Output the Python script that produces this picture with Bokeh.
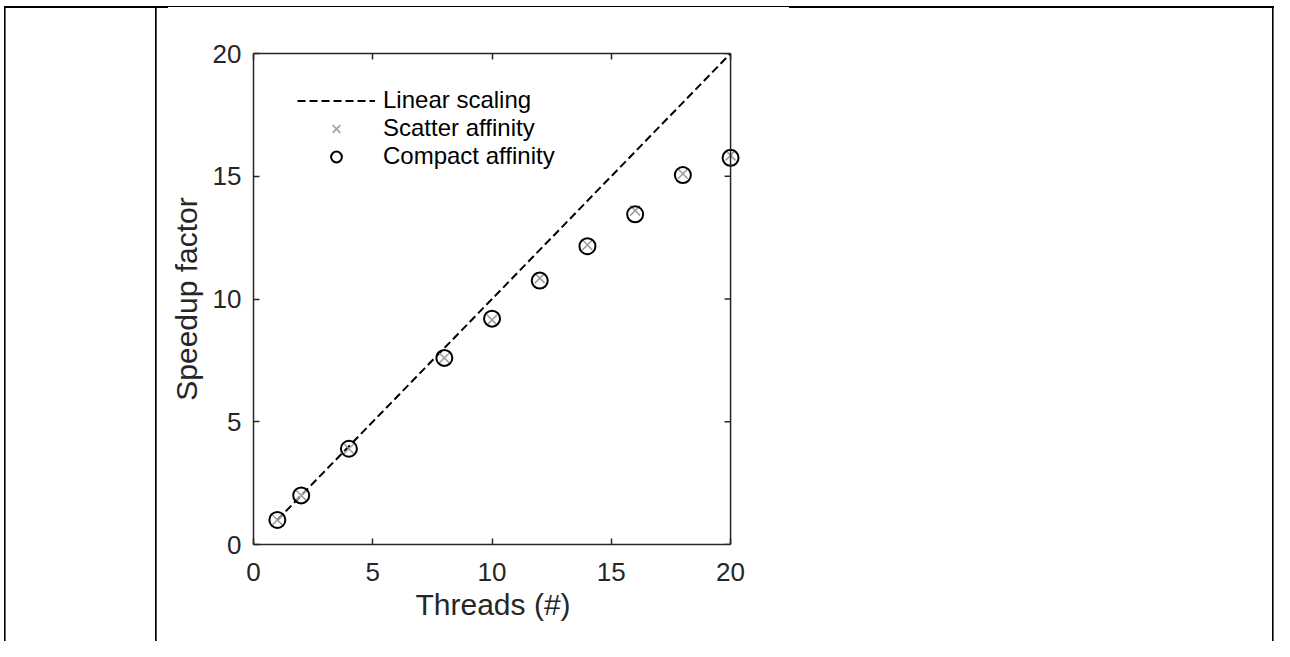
from bokeh.plotting import figure
from bokeh.models import LinearAxis, Range1d, FixedTicker, Legend, LegendItem, Span, Title
from bokeh.embed import file_html
from bokeh.resources import INLINE

# ---- data ----
threads = [1, 2, 4, 8, 10, 12, 14, 16, 18, 20]
linear_speedup = [1, 2, 4, 8, 10, 12, 14, 16, 18, 20]
scatter_speedup = [1.0, 2.0, 3.9, 7.6, 9.15, 10.85, 12.2, 13.6, 15.1, 15.85]
compact_speedup = [1.0, 2.0, 3.9, 7.6, 9.2, 10.75, 12.15, 13.45, 15.05, 15.75]
x_ticks = [0, 5, 10, 15, 20]
y_ticks = [0, 5, 10, 15, 20]
legend_labels = ["Linear scaling", "Scatter affinity", "Compact affinity"]
x_label = "Threads (#)"
y_label = "Speedup factor"

FONT = "Liberation Sans"
AX = "#262626"

W, H = 1274, 641
X_MAX = x_ticks[-1]
X_PAD = 0.5                       # room so the last markers are not clipped
PX_PER_X = 477 / X_MAX
FL, FT, FB = 253, 53, 544
FR = FL + round(PX_PER_X * (X_MAX + X_PAD))
TICK_PX = 6

# page-table border lines painted as CSS background behind a transparent canvas
bg_layers = [
    # (left, top, width, height)
    (4, 6, 1.6, H),
    (155, 6, 1.7, H),
    (4, 6, 164, 2.0),
    (168, 6, 621, 1.0),
    (789, 6, W - 789, 2.0),
    (W - 1.6, 6, 1.6, H),
]
styles = {
    "background-color": "white",
    "background-image": ", ".join(["linear-gradient(#000, #000)"] * len(bg_layers)),
    "background-size": ", ".join(f"{w}px {h}px" for (_, _, w, h) in bg_layers),
    "background-position": ", ".join(f"{x}px {y}px" for (x, y, _, _) in bg_layers),
    "background-repeat": "no-repeat",
}

p = figure(width=W, height=H, output_backend="svg", toolbar_location=None,
           x_range=Range1d(0, X_MAX + X_PAD), y_range=Range1d(0, 20),
           min_border_left=FL, min_border_right=W - FR,
           min_border_top=FT, min_border_bottom=H - FB,
           styles=styles)
p.outline_line_color = None
p.xgrid.visible = False
p.ygrid.visible = False
p.background_fill_color = None
p.border_fill_color = None

def style_axis(ax, ticks, show_labels):
    ax.axis_line_color = AX
    ax.axis_line_width = 1.5
    ax.major_label_text_font = FONT
    ax.major_label_text_color = AX
    ax.major_label_text_font_size = "26px"
    if show_labels:
        ax.ticker = FixedTicker(ticks=ticks)
        ax.major_tick_line_color = AX
        ax.major_tick_line_width = 1.5
        ax.major_tick_in = TICK_PX
        ax.major_tick_out = 0
        ax.minor_tick_line_color = None
    else:
        ax.ticker = FixedTicker(ticks=[], minor_ticks=ticks)
        ax.major_tick_line_color = None
        ax.minor_tick_line_color = AX
        ax.minor_tick_line_width = 1.5
        ax.minor_tick_in = TICK_PX
        ax.minor_tick_out = 0
        ax.major_label_standoff = 0
    ax.axis_label_text_font = FONT
    ax.axis_label_text_font_size = "30px"
    ax.axis_label_text_font_style = "normal"
    ax.axis_label_text_color = AX

xa = p.xaxis[0]
ya = p.yaxis[0]
style_axis(xa, x_ticks, True)
style_axis(ya, y_ticks, True)
xa.bounds = (0, X_MAX)
ya.axis_label = y_label
xa.major_label_standoff = 18
ya.major_label_standoff = 12
ya.axis_label_standoff = 7

# x-axis title centred under the 0..20 span (not under the padded frame)
xtitle = Title(text=x_label, align="left", offset=162, standoff=4,
               text_font=FONT, text_font_size="30px", text_font_style="normal",
               text_color=AX)
p.add_layout(xtitle, "below")

top = LinearAxis()
style_axis(top, x_ticks, False)
top.bounds = (0, X_MAX)
p.add_layout(top, "above")

# right side of the box at x = X_MAX, with inward ticks
p.add_layout(Span(location=X_MAX, dimension="height", line_color=AX, line_width=1.5))
p.segment(x0=[X_MAX] * len(y_ticks), y0=y_ticks,
          x1=[X_MAX - TICK_PX / PX_PER_X] * len(y_ticks), y1=y_ticks,
          line_color=AX, line_width=1.5)

# ---- glyphs ----
r_lin = p.line(threads, linear_speedup, line_color="black", line_width=2, line_dash="8 4")
r_sc = p.scatter(threads, scatter_speedup, marker="x", size=14, line_color="#a0a0a0", line_width=1.6)
r_cp = p.scatter(threads, compact_speedup, marker="circle", size=16, fill_color=None,
                 line_color="black", line_width=2)

legend = Legend(items=[LegendItem(label=legend_labels[0], renderers=[r_lin]),
                       LegendItem(label=legend_labels[1], renderers=[r_sc]),
                       LegendItem(label=legend_labels[2], renderers=[r_cp])],
                location=(44, 374))
legend.padding = 0
legend.margin = 0
legend.spacing = 0
legend.glyph_width = 78
legend.glyph_height = 27
legend.label_height = 27
legend.label_standoff = 8
legend.label_text_font = FONT
legend.label_text_font_size = "24px"
legend.label_text_color = "black"
legend.border_line_color = None
legend.background_fill_alpha = 0
p.add_layout(legend, "center")

open("out.html", "w").write(file_html(p, INLINE))
